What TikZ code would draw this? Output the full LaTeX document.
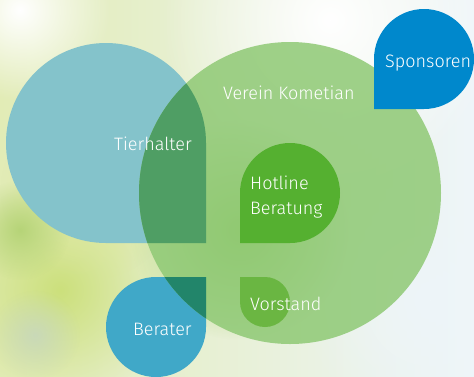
\documentclass[tikz,border=0pt]{standalone}
\usepackage{fontspec}
\setmainfont{Fira Sans}[UprightFont=* Light]
\usetikzlibrary{fadings}
\tikzfading[name=myblob, inner color=transparent!0, outer color=transparent!100]
\definecolor{bgL}{HTML}{E2ECB6}
\definecolor{bgR}{HTML}{EEF5F9}
\definecolor{bgA}{HTML}{CCE07C}
\definecolor{bgB}{HTML}{DCE89A}
\definecolor{bgC}{HTML}{C6D6C0}
\definecolor{bgD}{HTML}{9CCB62}
\definecolor{bgE}{HTML}{B6D478}
\definecolor{teal}{HTML}{84C3CB}
\definecolor{tealdark}{HTML}{4F9E64}
\definecolor{berblue}{HTML}{40A8C8}
\definecolor{berdark}{HTML}{22856A}
\definecolor{vgreen}{HTML}{8FC975}
\definecolor{hotgreen}{HTML}{55B030}
\definecolor{vorgreen}{HTML}{66B43C}
\definecolor{sponblue}{HTML}{0088CC}
\tikzset{
  lbl/.style={anchor=base west, text=white, font=\fontsize{18}{20}\selectfont, inner sep=0pt},
  blob/.style={path fading=myblob}
}
\begin{document}
\begin{tikzpicture}[x=1pt,y=-1pt]
\useasboundingbox (0,0) rectangle (474,376);
% background
\shade[left color=bgL, right color=bgR] (0,0) rectangle (474,376);
\fill[white, blob] (330,20) circle (170);
\fill[white, blob] (20,10) circle (90);
\fill[bgR, blob] (430,300) circle (130);
\fill[bgA, blob] (60,290) circle (110);
\fill[bgB, blob] (90,190) circle (90);
\fill[bgE, blob] (20,230) circle (50);
\fill[bgC, blob, opacity=0.8] (35,335) circle (45);
\fill[bgD, blob] (240,230) circle (110);
% Tierhalter
\fill[teal] (206,143) -- (206,243) -- (106,243) arc[start angle=90,end angle=360,radius=100] -- cycle;
% Berater
\fill[berblue] (206,327) -- (206,277) -- (156,277) arc[start angle=-90,end angle=-360,radius=50] -- cycle;
% Verein circle
\fill[vgreen, opacity=0.85] (290,193) circle (151);
\begin{scope}
  \clip (290,193) circle (151);
  \fill[tealdark] (206,143) -- (206,243) -- (106,243) arc[start angle=90,end angle=360,radius=100] -- cycle;
  \fill[berdark] (206,327) -- (206,277) -- (156,277) arc[start angle=-90,end angle=-360,radius=50] -- cycle;
\end{scope}
% Hotline
\fill[hotgreen] (240,193) -- (240,243) -- (290,243) arc[start angle=90,end angle=-180,radius=50] -- cycle;
% Vorstand
\fill[vorgreen, opacity=0.9] (240,302) -- (240,277) -- (265,277) arc[start angle=-90,end angle=180,radius=25] -- cycle;
% Sponsoren
\fill[sponblue] (374,59) -- (374,109) -- (424,109) arc[start angle=90,end angle=-180,radius=50] -- cycle;
% labels
\node[lbl] (verein) at (223,99) {Verein Kometian};
\node[lbl] (tier) at (114,150) {Tierhalter};
\node[lbl] (spon) at (385,67) {Sponsoren};
\node[lbl] (hot1) at (250,189) {Hotline};
\node[lbl] (hot2) at (250,214) {Beratung};
\node[lbl] (vor) at (250,310) {Vorstand};
\node[lbl] (ber) at (133,335) {Berater};
\end{tikzpicture}
\end{document}
